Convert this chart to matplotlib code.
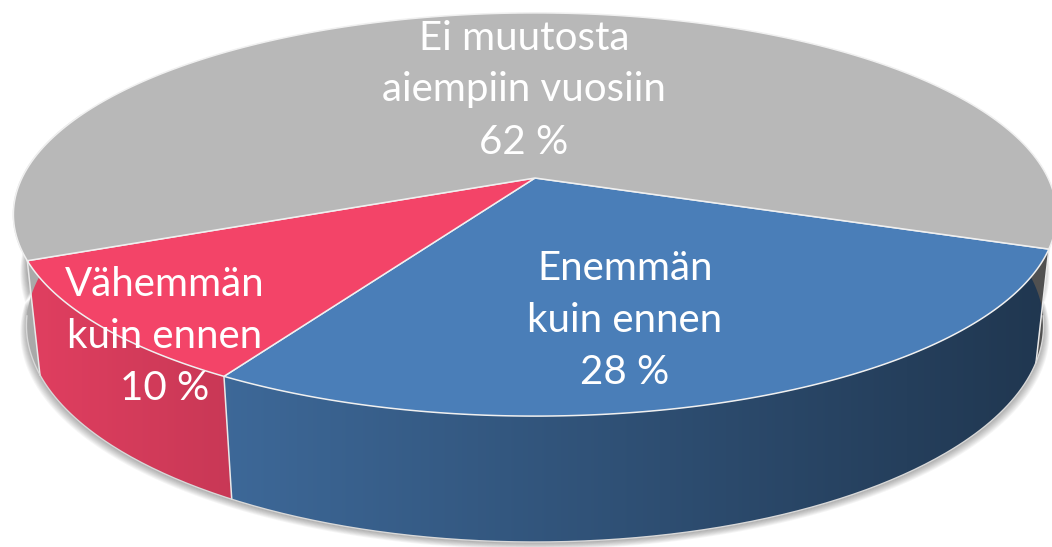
import numpy as np
import matplotlib
matplotlib.use("Agg")
import matplotlib.pyplot as plt
from matplotlib.patches import Polygon

# ---- data ----
labels = ["Enemmän\nkuin ennen", "Vähemmän\nkuin ennen", "Ei muutosta\naiempiin vuosiin"]
values = [28, 10, 62]
pct_labels = ["28 %", "10 %", "62 %"]
top_colors = ["#4A7EB8", "#F34468", "#B8B8B8"]

# ---- layout / projection params (pixels) ----
W, H = 1052, 547
cx, cy = 535.0, 178.0      # pie centre on screen
s = 513.0                  # horizontal radius scale
sk = 195.0                 # vertical radius scale
c = 0.181                  # perspective strength
depth = 108.0              # side thickness
bscale = 0.975             # bottom rim is a bit farther away
start = 20.0               # degrees, clockwise on screen from the right

def proj(theta_deg, bottom=False):
    t = np.radians(theta_deg)
    X = np.cos(t)
    Y = np.sin(t)
    w = 1 - c * Y
    if bottom:
        u = cx + s * bscale * X / w
        v = cy + (sk * bscale * Y + depth) / w
    else:
        u = cx + s * X / w
        v = cy + sk * Y / w
    return u, v

fig = plt.figure(figsize=(W / 100, H / 100), dpi=100)
ax = fig.add_axes([0, 0, 1, 1])
ax.set_xlim(0, W)
ax.set_ylim(H, 0)
ax.axis("off")

fracs = np.array(values, dtype=float) / sum(values)
bounds = start + 360 * np.concatenate([[0], np.cumsum(fracs)])

def rgb(hexc):
    return np.array(matplotlib.colors.to_rgb(hexc))

# ---- shadow ----
th = np.linspace(0, 180, 200)
for i in range(9):
    u, v = proj(th, bottom=True)
    u = cx + (u - cx) * (1.0 + i * 0.0015)
    v = v + 1 + i * 0.8
    ub, vb = u[::-1], v[::-1] - 60
    ax.add_patch(Polygon(np.column_stack([np.r_[u, ub], np.r_[v, vb]]),
                         closed=True, fc="black", ec="none", alpha=0.04, zorder=1))

# ---- side walls (gradient clipped to each slice's wall) ----
lo, hi = -12.0, 192.0
xs = np.linspace(0, W, W)
shade = np.clip(0.93 - 0.5 * (xs - 13) / 1040, 0, 1)
for k in range(len(values)):
    a0, a1 = bounds[k], bounds[k + 1]
    # visible intervals of this slice within [lo, hi] (consider wrap)
    for off in (-360, 0, 360):
        b0, b1 = max(a0 + off, lo), min(a1 + off, hi)
        if b1 <= b0:
            continue
        th = np.linspace(b0, b1, 200)
        ut, vt = proj(th)
        ubt, vbt = proj(th[::-1], bottom=True)
        pts = np.column_stack([np.r_[ut, ubt], np.r_[vt, vbt]])
        poly = Polygon(pts, closed=True, fc="none", ec="none")
        ax.add_patch(poly)
        img = np.clip(rgb(top_colors[k])[None, None, :] * shade[None, :, None], 0, 1)
        img = np.repeat(img, 2, axis=0)
        im = ax.imshow(img, extent=[0, W, H, 0], aspect="auto", zorder=2,
                       interpolation="bilinear")
        im.set_clip_path(poly)

ax.set_xlim(0, W)
ax.set_ylim(H, 0)

# boundary lines on walls
for b in bounds[:-1]:
    bb = b % 360
    if bb > hi:
        bb -= 360
    if lo < bb < hi:
        u1, v1 = proj(bb)
        u2, v2 = proj(bb, bottom=True)
        ax.plot([u1, u2], [v1, v2], color="#E8E8E8", lw=1.1, zorder=3)

# bottom outline (visible part)
gb = np.linspace(8, 172, 300)
u, v = proj(gb, bottom=True)
ax.plot(u, v, color="#D8D8D8", lw=1.0, zorder=3)
# outer silhouette of the top rim
gs = np.linspace(160, 200, 60)
u, v = proj(gs)
ax.plot(u, v, color="#E0E0E0", lw=1.0, zorder=3)

# ---- top faces ----
for k in range(len(values)):
    th = np.linspace(bounds[k], bounds[k + 1], 200)
    u, v = proj(th)
    pts = np.column_stack([np.r_[cx, u], np.r_[cy, v]])
    ax.add_patch(Polygon(pts, closed=True, fc=top_colors[k], ec="#F0F0F0", lw=1.1,
                         joinstyle="round", zorder=4))

# ---- labels ----
label_pos = [(625, 321), (165, 336), (524, 90)]
for k in range(len(values)):
    x, y = label_pos[k]
    txt = labels[k] + "\n" + pct_labels[k]
    ax.text(x, y, txt, ha="center", va="center", color="white", fontsize=29,
            family="Lato", linespacing=1.5, zorder=6)

fig.savefig("out.png", dpi=100)
